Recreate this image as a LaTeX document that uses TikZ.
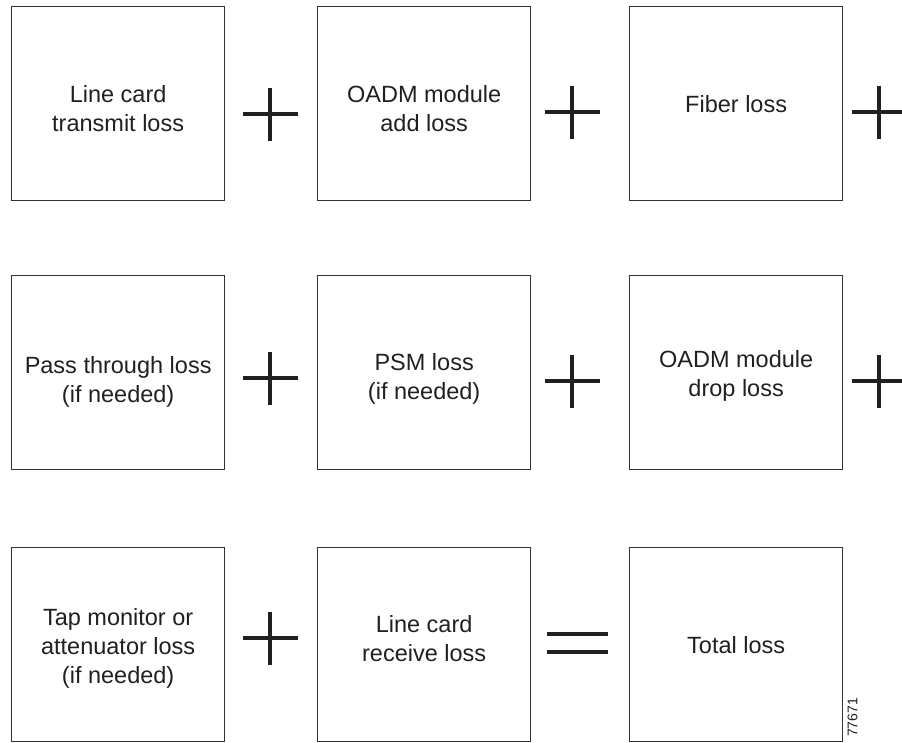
\documentclass[tikz,border=0pt]{standalone}
\usepackage{fontspec}
\setmainfont{Liberation Sans}
\definecolor{ink}{HTML}{231F20}
\definecolor{frame}{HTML}{333333}
\begin{document}
\begin{tikzpicture}[x=1pt,y=-1pt,
  lossbox/.style={draw=frame, line width=1.3pt, minimum width=213pt, minimum height=194pt,
    inner sep=0pt, anchor=north west},
  losstext/.style={align=center, text=ink, inner sep=0pt,
    font=\fontsize{23.5}{29}\selectfont},
  opline/.style={draw=ink, line width=3.3pt},
  plussign/.pic={\draw[opline] (-27.5,0) -- (27.5,0) (0,-26.5) -- (0,26.5);},
  equalsign/.pic={\draw[ink, line width=4pt] (-30.5,-9) -- (30.5,-9) (-30.5,9) -- (30.5,9);}]
\useasboundingbox (0,0) rectangle (902,742);

% the nine boxes
\node[lossbox] (tx)   at (11,6)    {};
\node[lossbox] (add)  at (317,6)   {};
\node[lossbox] (fib)  at (629,6)   {};
\node[lossbox] (pass) at (11,275)  {};
\node[lossbox] (psm)  at (317,275) {};
\node[lossbox] (drop) at (629,275) {};
\node[lossbox] (tap)  at (11,547)  {};
\node[lossbox] (rx)   at (317,547) {};
\node[lossbox] (tot)  at (629,547) {};

% their captions
\node[losstext, yshift=-5pt]   (tx-t)   at (tx.center)   {Line card\\transmit loss};
\node[losstext, yshift=-5pt]   (add-t)  at (add.center)  {OADM module\\add loss};
\node[losstext]                (fib-t)  at (fib.center)  {Fiber loss};
\node[losstext, yshift=-9pt]   (pass-t) at (pass.center) {Pass through loss\\(if needed)};
\node[losstext, yshift=-6pt]   (psm-t)  at (psm.center)  {PSM loss\\(if needed)};
\node[losstext, yshift=-3.5pt] (drop-t) at (drop.center) {OADM module\\drop loss};
\node[losstext, yshift=-4pt]   (tap-t)  at (tap.center)  {Tap monitor or\\attenuator loss\\(if needed)};
\node[losstext, yshift=6pt]    (rx-t)   at (rx.center)   {Line card\\receive loss};
\node[losstext]                (tot-t)  at (tot.center)  {Total loss};

% operators between the terms
\pic at (270,114) {plussign};
\pic at (572,112) {plussign};
\pic at (879,112) {plussign};
\pic at (270,378) {plussign};
\pic at (572,381) {plussign};
\pic at (879,381) {plussign};
\pic at (270,638) {plussign};
\pic at (577.5,643) {equalsign};

% figure number
\node[text=ink, font=\fontsize{14}{16}\selectfont, rotate=90, inner sep=0pt] (fignum) at (852.5,717.5) {77671};
\end{tikzpicture}
\end{document}
